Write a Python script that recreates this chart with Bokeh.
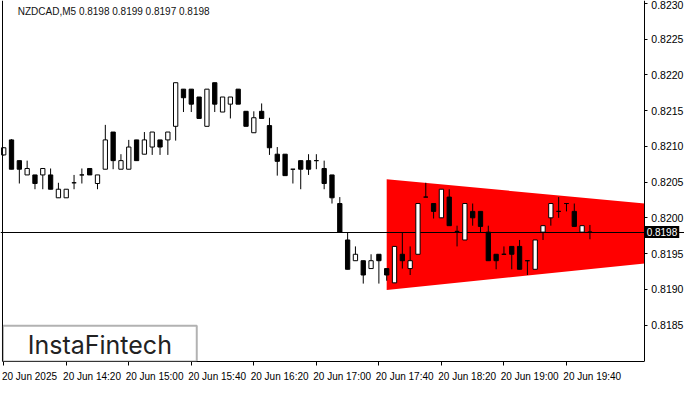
from bokeh.plotting import figure
from bokeh.models import (FixedTicker, PrintfTickFormatter, Label, BoxAnnotation,
                          ColumnDataSource, Range1d, LinearAxis)
from bokeh.embed import file_html
from bokeh.resources import INLINE

# ---------------- data ----------------
title_text = "NZDCAD,M5  0.8198 0.8199 0.8197 0.8198"
bar_index = list(range(76))

opens = [0.82088, 0.82109, 0.82080, 0.82060, 0.82060, 0.82060, 0.82060, 0.82028, 0.82028, 0.82049,
         0.82060, 0.82069, 0.82048, 0.82068, 0.82120, 0.82068, 0.82068, 0.82109, 0.82089, 0.82099,
         0.82109, 0.82109, 0.82128, 0.82180, 0.82180, 0.82169, 0.82128, 0.82189, 0.82148, 0.82159,
         0.82180, 0.82149, 0.82119, 0.82149, 0.82129, 0.82089, 0.82089, 0.82068, 0.82080, 0.82080,
         0.82080, 0.82069, 0.82060, 0.82020, 0.81969, 0.81940, 0.81940, 0.81929, 0.81949, 0.81929,
         0.81909, 0.81949, 0.81929, 0.81949, 0.82029, 0.82020, 0.82000, 0.82029, 0.81981, 0.81969,
         0.82009, 0.82009, 0.81980, 0.81949, 0.81949, 0.81960, 0.81960, 0.81940, 0.81928, 0.81980,
         0.82000, 0.82009, 0.82020, 0.82009, 0.81980, 0.81980]
highs = [0.82099, 0.82110, 0.82080, 0.82080, 0.82060, 0.82069, 0.82069, 0.82049, 0.82040, 0.82060,
         0.82069, 0.82069, 0.82060, 0.82130, 0.82120, 0.82089, 0.82109, 0.82109, 0.82120, 0.82120,
         0.82109, 0.82120, 0.82189, 0.82180, 0.82180, 0.82169, 0.82180, 0.82189, 0.82169, 0.82169,
         0.82180, 0.82149, 0.82149, 0.82160, 0.82140, 0.82099, 0.82089, 0.82068, 0.82080, 0.82089,
         0.82089, 0.82080, 0.82060, 0.82029, 0.81980, 0.81960, 0.81940, 0.81949, 0.81949, 0.81929,
         0.81960, 0.81980, 0.81960, 0.82020, 0.82049, 0.82020, 0.82040, 0.82040, 0.81989, 0.82020,
         0.82020, 0.82009, 0.81989, 0.81949, 0.81960, 0.81960, 0.81969, 0.81940, 0.81969, 0.81989,
         0.82020, 0.82029, 0.82020, 0.82020, 0.81989, 0.81990]
lows = [0.82087, 0.82068, 0.82048, 0.82060, 0.82040, 0.82040, 0.82040, 0.82028, 0.82028, 0.82040,
        0.82048, 0.82060, 0.82040, 0.82068, 0.82068, 0.82068, 0.82068, 0.82080, 0.82089, 0.82088,
        0.82088, 0.82088, 0.82108, 0.82148, 0.82148, 0.82139, 0.82128, 0.82148, 0.82148, 0.82139,
        0.82159, 0.82128, 0.82119, 0.82139, 0.82088, 0.82059, 0.82059, 0.82048, 0.82040, 0.82060,
        0.82068, 0.82040, 0.82020, 0.81980, 0.81928, 0.81940, 0.81908, 0.81929, 0.81908, 0.81912,
        0.81909, 0.81929, 0.81920, 0.81949, 0.82029, 0.81999, 0.82000, 0.81989, 0.81960, 0.81969,
        0.81989, 0.81980, 0.81940, 0.81928, 0.81949, 0.81928, 0.81928, 0.81920, 0.81928, 0.81969,
        0.81989, 0.82000, 0.82009, 0.81988, 0.81980, 0.81970]
closes = [0.82098, 0.82068, 0.82068, 0.82069, 0.82048, 0.82069, 0.82040, 0.82040, 0.82040, 0.82049,
          0.82060, 0.82060, 0.82060, 0.82109, 0.82080, 0.82080, 0.82099, 0.82080, 0.82109, 0.82120,
          0.82099, 0.82120, 0.82189, 0.82168, 0.82159, 0.82139, 0.82180, 0.82159, 0.82169, 0.82169,
          0.82159, 0.82128, 0.82140, 0.82139, 0.82098, 0.82079, 0.82059, 0.82068, 0.82068, 0.82068,
          0.82080, 0.82048, 0.82028, 0.81980, 0.81928, 0.81949, 0.81920, 0.81940, 0.81940, 0.81920,
          0.81960, 0.81940, 0.81940, 0.82020, 0.82029, 0.82009, 0.82040, 0.81989, 0.81981, 0.82020,
          0.82000, 0.81988, 0.81940, 0.81940, 0.81949, 0.81949, 0.81928, 0.81940, 0.81969, 0.81989,
          0.82020, 0.82009, 0.82020, 0.81988, 0.81989, 0.81980]

x_tick_bars = [0, 8, 16, 24, 32, 40, 48, 56, 64, 72]
x_tick_labels = ["20 Jun 2025", "20 Jun 14:20", "20 Jun 15:00", "20 Jun 15:40", "20 Jun 16:20",
                 "20 Jun 17:00", "20 Jun 17:40", "20 Jun 18:20", "20 Jun 19:00", "20 Jun 19:40"]
y_ticks = [0.8185, 0.8190, 0.8195, 0.8200, 0.8205, 0.8210, 0.8215, 0.8220, 0.8225, 0.8230]

pattern_x = [49, 82]
pattern_upper = [0.82054, 0.82020]
pattern_lower = [0.81899, 0.81936]
last_price = 0.8198
logo_text = "InstaFintech"

# ---------------- layout constants (bar units) ----------------
X_LEFT, X_EDGE, X_END = -0.1, 81.96, 87.1
FONT = "Liberation Sans"

p = figure(width=684, height=384, output_backend="svg", toolbar_location=None,
           x_range=Range1d(-0.41, X_END), y_range=Range1d(0.81799, 0.82304),
           y_axis_location=None,
           min_border_left=0, min_border_right=0, min_border_top=0, min_border_bottom=20)
p.xgrid.visible = False
p.ygrid.visible = False
p.outline_line_color = None
p.background_fill_color = "white"
p.border_fill_color = "white"

# triangle pattern
p.varea(x=pattern_x, y1=pattern_lower, y2=pattern_upper, fill_color="#FF0000")

# price line (behind candles)
p.hspan(y=[last_price], line_color="black", line_width=1)

# candles
body_top = [max(o, c) for o, c in zip(opens, closes)]
body_bot = [min(o, c) for o, c in zip(opens, closes)]
fills = ["white" if c > o else "black" for o, c in zip(opens, closes)]
src = ColumnDataSource(dict(x=bar_index, high=highs, low=lows, top=body_top, bottom=body_bot, fill=fills))
p.segment(x0="x", y0="low", x1="x", y1="high", source=src, line_color="black", line_width=1)
p.vbar(x="x", width=0.55, top="top", bottom="bottom", source=src,
       fill_color="fill", line_color="black", line_width=1)

# x axis: labels left-aligned at tick marks (ticks as minor ticks)
label_shift = 3.3
xt = FixedTicker(ticks=[b + label_shift for b in x_tick_bars], minor_ticks=x_tick_bars)
p.xaxis.ticker = xt
p.xaxis.bounds = (X_LEFT, X_EDGE)
p.xaxis.major_label_overrides = {b + label_shift: l for b, l in zip(x_tick_bars, x_tick_labels)}
p.xaxis.major_tick_line_color = None
p.xaxis.minor_tick_line_color = "black"
p.xaxis.minor_tick_out = 4
p.xaxis.minor_tick_in = 0
p.xaxis.major_label_standoff = 3
p.xaxis.major_label_text_font = FONT
p.xaxis.major_label_text_font_size = "10px"
p.xaxis.major_label_text_color = "black"
p.xaxis.axis_line_color = "black"

# price axis: right edge of the chart, labels outside to the right
yaxis = LinearAxis(fixed_location=X_EDGE,
                   ticker=FixedTicker(ticks=y_ticks, minor_ticks=[]),
                   formatter=PrintfTickFormatter(format="%.4f"),
                   major_tick_out=3, major_tick_in=0, major_label_standoff=4,
                   major_label_text_font=FONT, major_label_text_font_size="10.5px",
                   major_label_text_color="black", axis_line_color="black")
p.add_layout(yaxis, "right")

# left border of the chart (axis line only, no ticks or labels)
left_border = LinearAxis(fixed_location=X_LEFT, ticker=FixedTicker(ticks=[], minor_ticks=[]),
                         major_tick_line_color=None, minor_tick_line_color=None,
                         axis_line_color="black")
p.add_layout(left_border, "left")

# current price tag on the price axis
p.add_layout(Label(x=82.0, y=last_price, text=f"{last_price:.4f}",
                   text_color="white", background_fill_color="black",
                   text_font=FONT, text_font_size="10px", text_baseline="middle",
                   text_align="left", padding=2))

# title
p.add_layout(Label(x=1.8, y=0.82289, text=title_text, text_font=FONT, text_font_size="10px",
                   text_color="#111111", text_baseline="middle", text_align="left"))

# logo
p.add_layout(BoxAnnotation(left=X_LEFT, right=24.7, top=0.81849, fill_color="white", fill_alpha=1.0,
                           line_color="black", line_width=2))
p.add_layout(Label(x=12.3, y=0.81822, text=logo_text, text_font="Inter", text_font_size="25px",
                   text_color="#222222", text_baseline="middle", text_align="center"))

open("out.html", "w").write(file_html(p, INLINE))
